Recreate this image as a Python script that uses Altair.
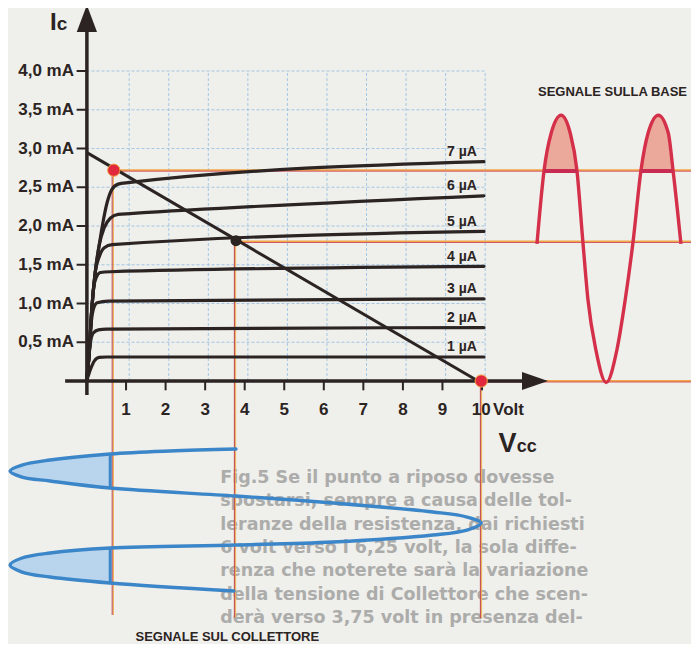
import altair as alt
import pandas as pd

# ---------------- data (volt / mA units) ----------------
ic_ticks = [0.5, 1.0, 1.5, 2.0, 2.5, 3.0, 3.5, 4.0]
ic_labels = ["0,5 mA", "1,0 mA", "1,5 mA", "2,0 mA", "2,5 mA", "3,0 mA", "3,5 mA", "4,0 mA"]
v_ticks = [1, 2, 3, 4, 5, 6, 7, 8, 9, 10]
v_labels = ["1", "2", "3", "4", "5", "6", "7", "8", "9", "10"]

curve_names = ["1 µA", "2 µA", "3 µA", "4 µA", "5 µA", "6 µA", "7 µA"]
c1 = [(0, 0), (0.04, 0.06), (0.10, 0.15), (0.20, 0.26), (0.32, 0.305), (0.50, 0.31), (10.05, 0.31)]
c2 = [(0, 0), (0.06, 0.30), (0.10, 0.50), (0.17, 0.62), (0.30, 0.66), (0.50, 0.67), (10.05, 0.69)]
c3 = [(0, 0), (0.06, 0.30), (0.11, 0.70), (0.17, 0.92), (0.27, 1.01), (0.55, 1.03), (10.05, 1.06)]
c4 = [(0, 0), (0.06, 0.30), (0.13, 0.90), (0.18, 1.20), (0.25, 1.34), (0.35, 1.40), (0.60, 1.41), (10.05, 1.48)]
c5 = [(0, 0), (0.06, 0.30), (0.13, 0.90), (0.22, 1.40), (0.32, 1.60), (0.45, 1.72), (0.65, 1.76), (10.05, 1.93)]
c6 = [(0, 0), (0.06, 0.30), (0.13, 0.90), (0.22, 1.40), (0.32, 1.75), (0.45, 1.98), (0.60, 2.10), (0.80, 2.15), (1.10, 2.16), (10.05, 2.39)]
c7 = [(0, 0), (0.06, 0.30), (0.13, 0.90), (0.22, 1.40), (0.32, 1.75), (0.40, 2.00), (0.52, 2.30), (0.64, 2.47), (0.80, 2.54), (1.05, 2.56), (10.05, 2.83)]
curves = [c1, c2, c3, c4, c5, c6, c7]

load_line = [(0.0, 2.95), (9.9, 0.0)]
q_point = (3.78, 1.81)
sat_point = (0.69, 2.72)
cut_point = (9.98, 0.0)

# base signal (red), x in the same horizontal units, y in mA
base_v = [11.39, 11.57, 11.75, 12.00, 12.23, 12.40, 12.55, 12.68, 12.88, 13.14, 13.41, 13.62, 13.82, 14.02, 14.20, 14.46, 14.71, 14.83, 15.03]
base_i = [1.77, 2.72, 3.20, 3.43, 3.20, 2.72, 1.80, 1.045, 0.40, -0.02, 0.40, 1.045, 1.80, 2.72, 3.20, 3.43, 3.20, 2.72, 1.77]
base_clip = 2.72

# collector signal (blue): volt on x, time running downwards
coll_v = [3.78, 2.11, 0.594, -0.923, -1.631, -1.934, -1.631, -0.923, 0.594, 3.78, 6.233, 8.761, 9.621, 9.98,
          9.621, 8.761, 6.233, 3.78, 0.594, -0.923, -1.631, -1.934, -1.631, -0.923, 0.594, 3.729]
coll_t = [-0.877, -0.903, -0.942, -1.019, -1.084, -1.161, -1.239, -1.290, -1.381, -1.484, -1.574, -1.690, -1.755, -1.832,
          -1.923, -1.987, -2.077, -2.116, -2.155, -2.219, -2.284, -2.374, -2.465, -2.529, -2.606, -2.710]
coll_clip = 0.6

caption_lines = [
    "Fig.5 Se il punto a riposo dovesse",
    "spostarsi, sempre a causa delle tol-",
    "leranze della resistenza, dai richiesti",
    "6 volt verso i 6,25 volt, la sola diffe-",
    "renza che noterete sarà la variazione",
    "della tensione di Collettore che scen-",
    "derà verso 3,75 volt in presenza del-",
]

# ---------------- scales ----------------
XS = alt.Scale(domain=[-1.9848, 15.2844], nice=False, zero=False)
YS = alt.Scale(domain=[-3.3935, 4.8129], nice=False, zero=False)


def X(f):
    return alt.X(f, type="quantitative", scale=XS, axis=None)


def Y(f):
    return alt.Y(f, type="quantitative", scale=YS, axis=None)


INK = "#2b2422"
FONT = "Liberation Sans"
XR = 15.3

layers = []

# grid
gx = pd.DataFrame({"x": [v + 0.08 for v in v_ticks], "y": 0.0, "y2": 4.0})
layers.append(alt.Chart(gx).mark_rule(color="#9cc2e2", strokeWidth=0.9, strokeDash=[3, 2]).encode(
    x=X("x"), y=Y("y"), y2=alt.Y2("y2")))
gy = pd.DataFrame({"y": ic_ticks, "x": 0.0, "x2": 10.08})
layers.append(alt.Chart(gy).mark_rule(color="#9cc2e2", strokeWidth=0.9, strokeDash=[3, 2]).encode(
    y=Y("y"), x=X("x"), x2=alt.X2("x2")))

# faded caption text
cap = pd.DataFrame({"t": caption_lines, "x": 3.38,
                    "y": [-1.252 - k * 0.3013 for k in range(len(caption_lines))]})
layers.append(alt.Chart(cap).mark_text(align="left", baseline="middle", font="DejaVu Sans", fontWeight="bold",
                                       fontSize=17.5, color="#acacaa").encode(x=X("x"), y=Y("y"), text="t:N"))

# collector signal fills
coll = pd.DataFrame({"v": coll_v, "t": coll_t, "k": range(len(coll_v))})
for a, b in [(2, 8), (18, 24)]:
    seg = coll.iloc[a:b + 1].copy()
    seg["v0"] = coll_clip
    layers.append(alt.Chart(seg).mark_area(orient="horizontal", interpolate="catmull-rom", color="#b9d5ee",
                                           opacity=1).encode(y=Y("t"), x=X("v"), x2=alt.X2("v0")))

# base signal fills
base = pd.DataFrame({"v": base_v, "i": base_i})
for a, b in [(1, 5), (13, 17)]:
    seg = base.iloc[a:b + 1].copy()
    seg["i0"] = base_clip
    layers.append(alt.Chart(seg).mark_area(interpolate="monotone", color="#eba99b", opacity=1).encode(
        x=X("v"), y=Y("i"), y2=alt.Y2("i0")))

# signal projection lines (orange + red pair)
hl = pd.DataFrame({"y": [sat_point[1], q_point[1] - 0.01, 0.0],
                   "x": [sat_point[0], q_point[0], cut_point[0]], "x2": XR})
hl_red = hl.assign(y=hl["y"] - 0.013)
layers.append(alt.Chart(hl).mark_rule(color="#f0a848", strokeWidth=1.8).encode(
    y=Y("y"), x=X("x"), x2=alt.X2("x2")))
layers.append(alt.Chart(hl_red).mark_rule(color="#d04a5e", strokeWidth=0.9).encode(
    y=Y("y"), x=X("x"), x2=alt.X2("x2")))
vl = pd.DataFrame({"x": [0.65, 3.74, 9.96], "y": [sat_point[1], q_point[1], 0.0], "y2": [-3.02, -3.05, -3.06]})
vl_or = vl.assign(x=vl["x"] + 0.03)
layers.append(alt.Chart(vl_or).mark_rule(color="#f0b050", strokeWidth=1.0).encode(
    x=X("x"), y=Y("y"), y2=alt.Y2("y2")))
layers.append(alt.Chart(vl).mark_rule(color="#c2505a", strokeWidth=1.1).encode(
    x=X("x"), y=Y("y"), y2=alt.Y2("y2")))

# characteristic curves
rows = []
for name, pts in zip(curve_names, curves):
    for k, (v, i) in enumerate(pts):
        rows.append({"c": name, "v": v, "i": i, "k": k})
cdf = pd.DataFrame(rows)
layers.append(alt.Chart(cdf).mark_line(interpolate="monotone", color=INK, strokeWidth=3.2, strokeCap="round").encode(
    x=X("v"), y=Y("i"), detail="c:N", order="k:Q"))

# curve labels
lab = pd.DataFrame({"t": curve_names, "x": 9.87, "y": [pts[-1][1] + 0.125 for pts in curves]})
layers.append(alt.Chart(lab).mark_text(align="right", baseline="middle", font=FONT, fontWeight="bold",
                                       fontSize=14, color=INK).encode(x=X("x"), y=Y("y"), text="t:N"))

# load line
ll = pd.DataFrame({"v": [p[0] for p in load_line], "i": [p[1] for p in load_line]})
layers.append(alt.Chart(ll).mark_line(color=INK, strokeWidth=3).encode(x=X("v"), y=Y("i")))

# axes
ax = pd.DataFrame({"x": [-0.54], "x2": [11.09], "y": [0.0]})
layers.append(alt.Chart(ax).mark_rule(color=INK, strokeWidth=3.5).encode(x=X("x"), x2=alt.X2("x2"), y=Y("y")))
ay = pd.DataFrame({"x": [0.01], "y": [-0.18], "y2": [4.55]})
layers.append(alt.Chart(ay).mark_rule(color=INK, strokeWidth=3.5).encode(x=X("x"), y=Y("y"), y2=alt.Y2("y2")))
ty = pd.DataFrame({"y": ic_ticks, "x": -0.25, "x2": 0.0})
layers.append(alt.Chart(ty).mark_rule(color=INK, strokeWidth=2).encode(y=Y("y"), x=X("x"), x2=alt.X2("x2")))
tx = pd.DataFrame({"x": v_ticks, "y": 0.0, "y2": -0.12})
layers.append(alt.Chart(tx).mark_rule(color=INK, strokeWidth=2).encode(x=X("x"), y=Y("y"), y2=alt.Y2("y2")))

# arrow heads
layers.append(alt.Chart(pd.DataFrame({"x": [0.01], "y": [4.677]})).mark_point(
    shape="M0,-1L0.75,1L-0.75,1Z", size=729, filled=True, color=INK, opacity=1).encode(x=X("x"), y=Y("y")))
layers.append(alt.Chart(pd.DataFrame({"x": [11.34], "y": [0.0]})).mark_point(
    shape="M1,0L-1,-0.7L-1,0.7Z", size=676, filled=True, color=INK, opacity=1).encode(x=X("x"), y=Y("y")))

# tick labels
yl = pd.DataFrame({"t": ic_labels, "y": ic_ticks, "x": -0.316})
layers.append(alt.Chart(yl).mark_text(align="right", baseline="middle", font=FONT, fontWeight="bold",
                                      fontSize=17, color=INK).encode(x=X("x"), y=Y("y"), text="t:N"))
xl = pd.DataFrame({"t": v_labels, "x": [v + (-0.02 if v == 10 else 0.0) for v in v_ticks], "y": -0.37})
layers.append(alt.Chart(xl).mark_text(align="center", baseline="middle", font=FONT, fontWeight="bold",
                                      fontSize=17, color=INK).encode(x=X("x"), y=Y("y"), text="t:N"))
layers.append(alt.Chart(pd.DataFrame({"t": ["Volt"], "x": [10.28], "y": [-0.37]})).mark_text(
    align="left", baseline="middle", font=FONT, fontWeight="bold", fontSize=17, color=INK).encode(
    x=X("x"), y=Y("y"), text="t:N"))

# axis titles Ic / Vcc
layers.append(alt.Chart(pd.DataFrame({"t": ["I"], "x": [-0.92], "y": [4.529]})).mark_text(
    align="left", baseline="alphabetic", font=FONT, fontWeight="bold", fontSize=24, color=INK).encode(
    x=X("x"), y=Y("y"), text="t:N"))
layers.append(alt.Chart(pd.DataFrame({"t": ["c"], "x": [-0.75], "y": [4.529]})).mark_text(
    align="left", baseline="alphabetic", font=FONT, fontWeight="bold", fontSize=19, color=INK).encode(
    x=X("x"), y=Y("y"), text="t:N"))
layers.append(alt.Chart(pd.DataFrame({"t": ["V"], "x": [10.42], "y": [-0.916]})).mark_text(
    align="left", baseline="alphabetic", font=FONT, fontWeight="bold", fontSize=27, color=INK).encode(
    x=X("x"), y=Y("y"), text="t:N"))
layers.append(alt.Chart(pd.DataFrame({"t": ["cc"], "x": [10.88], "y": [-0.916]})).mark_text(
    align="left", baseline="alphabetic", font=FONT, fontWeight="bold", fontSize=18, color=INK).encode(
    x=X("x"), y=Y("y"), text="t:N"))

# signal titles
layers.append(alt.Chart(pd.DataFrame({"t": ["SEGNALE SULLA BASE"], "x": [13.30], "y": [3.729]})).mark_text(
    align="center", baseline="middle", font=FONT, fontWeight="bold", fontSize=13, color=INK).encode(
    x=X("x"), y=Y("y"), text="t:N"))
layers.append(alt.Chart(pd.DataFrame({"t": ["SEGNALE SUL COLLETTORE"], "x": [3.56], "y": [-3.30]})).mark_text(
    align="center", baseline="middle", font=FONT, fontWeight="bold", fontSize=13, color=INK).encode(
    x=X("x"), y=Y("y"), text="t:N"))

# signal curves
layers.append(alt.Chart(coll).mark_line(interpolate="catmull-rom", color="#3b86c8", strokeWidth=3.4,
                                        strokeCap="round").encode(x=X("v"), y=Y("t"), order="k:Q"))
cut = pd.DataFrame({"x": [coll_clip, coll_clip], "y": [coll_t[2], coll_t[18]], "y2": [coll_t[8], coll_t[24]]})
layers.append(alt.Chart(cut).mark_rule(color="#3b86c8", strokeWidth=3).encode(x=X("x"), y=Y("y"), y2=alt.Y2("y2")))

base_k = base.assign(k=range(len(base_v)))
layers.append(alt.Chart(base_k).mark_line(interpolate="monotone", color="#d5304a", strokeWidth=3.4).encode(
    x=X("v"), y=Y("i"), order="k:Q"))
bars = pd.DataFrame({"x": [base_v[1], base_v[13]], "x2": [base_v[5], base_v[17]], "y": base_clip - 0.01})
layers.append(alt.Chart(bars).mark_rule(color="#c92c52", strokeWidth=4).encode(
    x=X("x"), x2=alt.X2("x2"), y=Y("y")))

# points
pts = pd.DataFrame({"x": [sat_point[0], cut_point[0]], "y": [sat_point[1], cut_point[1]]})
layers.append(alt.Chart(pts).mark_point(shape="circle", size=150, filled=True, color="#e2283c", stroke="#f0a040",
                                        strokeWidth=1, opacity=1).encode(x=X("x"), y=Y("y")))
layers.append(alt.Chart(pd.DataFrame({"x": [q_point[0]], "y": [q_point[1]]})).mark_point(
    shape="circle", size=120, filled=True, color=INK, opacity=1).encode(x=X("x"), y=Y("y")))

chart = alt.layer(*layers).properties(
    width=683, height=636, padding=0,
    autosize=alt.AutoSizeParams(type="none"),
    background="#efefec",
).configure_view(stroke=None)

chart.save("out.html", embed_options={"renderer": "svg", "actions": False})
